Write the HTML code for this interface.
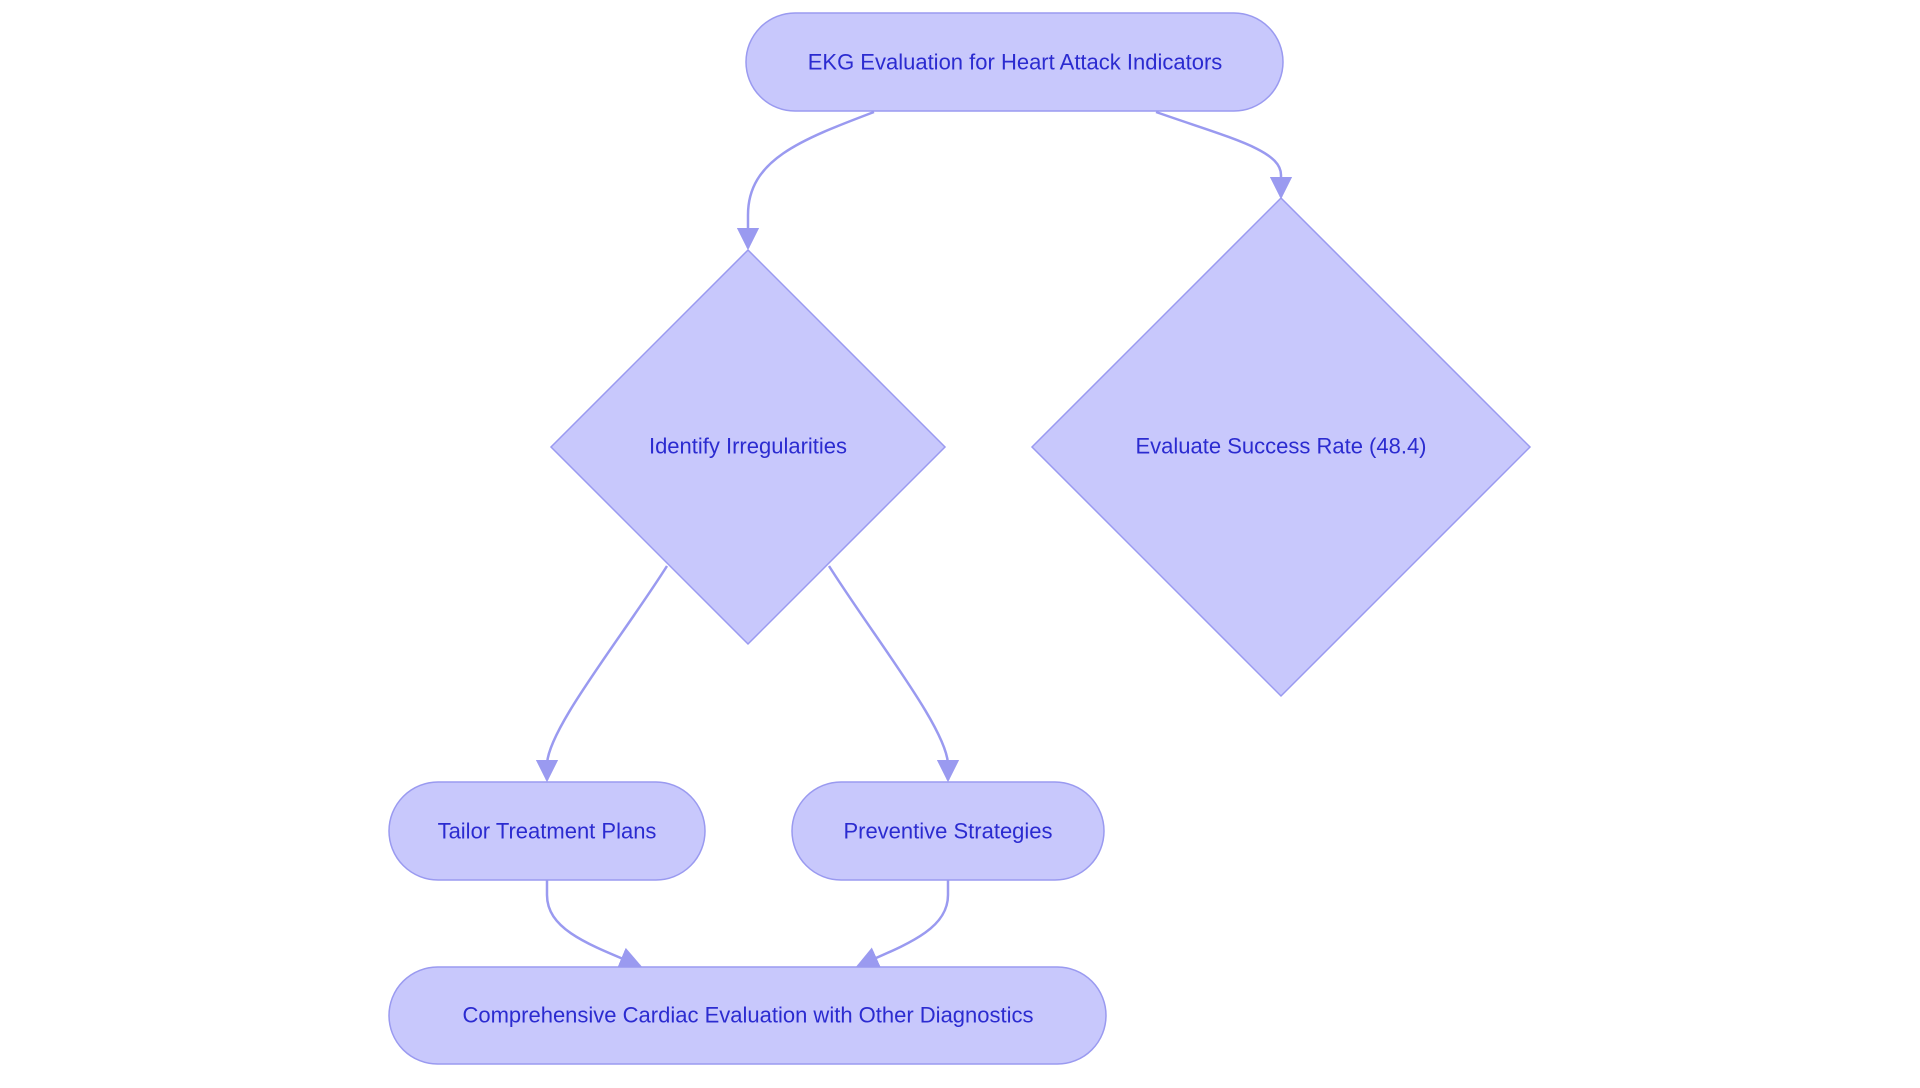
<!DOCTYPE html>
<html><head><meta charset="utf-8"><style>
html,body{margin:0;padding:0;background:#fff;}
svg text{font-family:"Liberation Sans",sans-serif;font-size:22px;fill:#2b2bd0;text-anchor:middle;dominant-baseline:central;}
</style></head><body>
<svg width="1920" height="1083" viewBox="0 0 1920 1083" xmlns="http://www.w3.org/2000/svg">
<defs><marker id="a" viewBox="0 0 10 10" refX="9" refY="5" markerWidth="9" markerHeight="9" orient="auto-start-reverse"><path d="M0,0L10,5L0,10z" fill="#9a9af0"/></marker></defs>
<g fill="none" stroke="#9a9af0" stroke-width="2.5">
<path d="M874,112 C800,140 748,160 748,215 L748,248" marker-end="url(#a)"/>
<path d="M1156,112 C1230,138 1281,150 1281,175 L1281,197" marker-end="url(#a)"/>
<path d="M667,566 C620,640 547,730 547,765 L547,780" marker-end="url(#a)"/>
<path d="M829,566 C876,640 948,730 948,765 L948,780" marker-end="url(#a)"/>
<path d="M547,880 L547,895 C547,930 590,945 640,966" marker-end="url(#a)"/>
<path d="M948,880 L948,895 C948,930 905,945 858,966" marker-end="url(#a)"/>
</g>
<g fill="#c8c8fc" stroke="#9a9af0" stroke-width="1.5">
<rect x="746" y="13" width="537" height="98" rx="49"/>
<polygon points="748,250 945,447 748,644 551,447"/>
<polygon points="1281,198 1530,447 1281,696 1032,447"/>
<rect x="389" y="782" width="316" height="98" rx="49"/>
<rect x="792" y="782" width="312" height="98" rx="49"/>
<rect x="389" y="967" width="717" height="97" rx="48.5"/>
</g>
<text x="1015" y="62">EKG Evaluation for Heart Attack Indicators</text>
<text x="748" y="446">Identify Irregularities</text>
<text x="1281" y="446">Evaluate Success Rate (48.4)</text>
<text x="547" y="831">Tailor Treatment Plans</text>
<text x="948" y="831">Preventive Strategies</text>
<text x="748" y="1015">Comprehensive Cardiac Evaluation with Other Diagnostics</text>
</svg>
</body></html>
